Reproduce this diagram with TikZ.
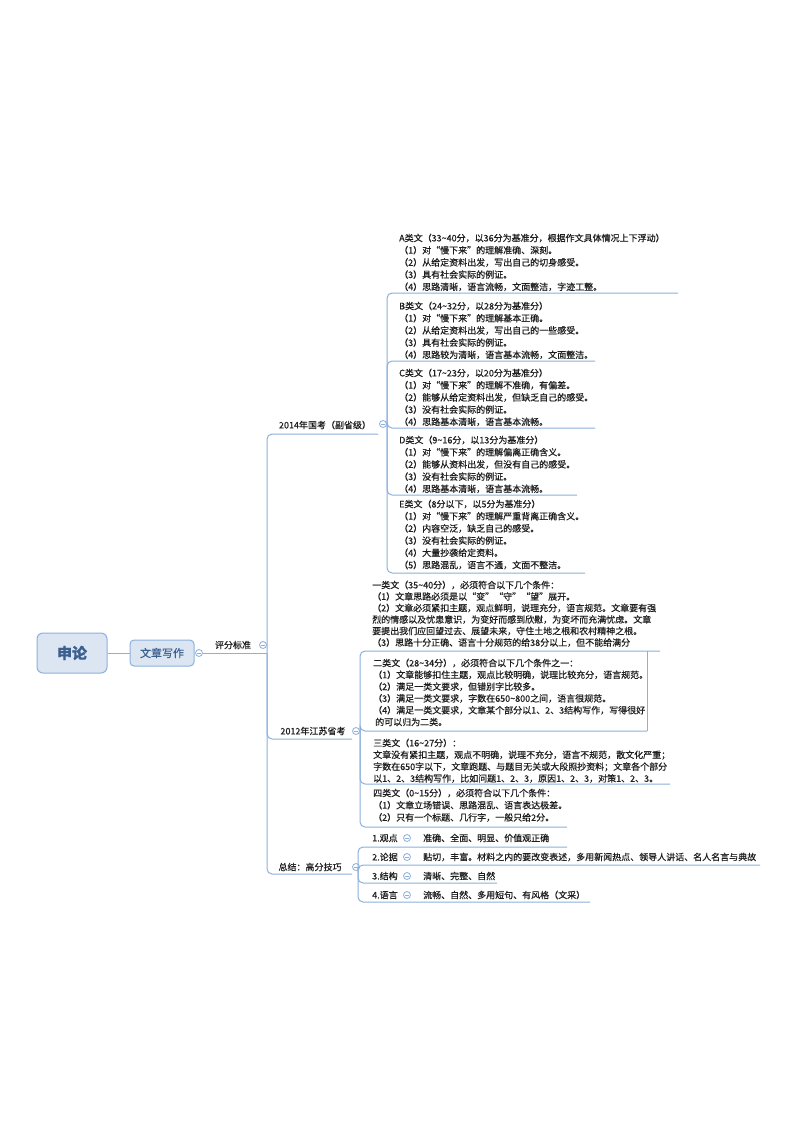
\documentclass[tikz,border=0pt]{standalone}
\usepackage{fontspec}
\setmainfont{Noto Sans CJK SC}[RawFeature={embolden=0.5}]
\usetikzlibrary{positioning}

\definecolor{linec}{HTML}{8DB0DD}
\definecolor{boxfill}{HTML}{DCE6F2}
\definecolor{rootc}{HTML}{3B5F8F}
\definecolor{textc}{HTML}{1E1E1E}

\newcommand{\tl}{\textasciitilde}

\tikzset{
  conn/.style={draw=linec, line width=1pt, rounded corners=5pt},
  fold/.style={circle, draw=linec, fill=white, line width=0.8pt, minimum size=7pt, inner sep=0pt,
    path picture={\draw[linec, line width=0.7pt]
      ([xshift=-1.8pt]path picture bounding box.center) -- ([xshift=1.8pt]path picture bounding box.center);}},
  topic/.style={inner sep=0pt, text=textc, font=\fontsize{9}{11}\selectfont},
  para/.style={anchor=north west, inner sep=0pt, align=left, text=textc, font=\fontsize{9}{12.2}\selectfont},
  rootbox/.style={draw=linec, fill=boxfill, line width=1pt, rounded corners=6pt,
    minimum width=70pt, minimum height=40pt, text=rootc, font=\fontsize{15}{15}\selectfont\bfseries},
  mainbox/.style={draw=linec, fill=boxfill, line width=1pt, rounded corners=4pt,
    minimum width=64pt, minimum height=26pt, text=rootc, font=\fontsize{11}{11}\selectfont}
}

\begin{document}
\begin{tikzpicture}[x=1pt, y=-1pt]
\useasboundingbox[fill=white] (0,0) rectangle (800,1132);

% root and first level
\node[rootbox] (shenlun) at (72,653) {申论};
\node[mainbox] (xiezuo) at (162,653) {文章写作};
\draw[conn] (shenlun) -- (xiezuo);
\node[fold] (fxz) at (199,653) {};
\node[topic] (pfbz) at (233,645) {评分标准};
\node[fold] (fpf) at (263,645) {};
\coordinate (bpf) at (267,653);
\draw[conn] (fxz) -- (bpf);

% second level
\node[topic] (gk14) at (325,425) {2014年国考（副省级）};
\node[topic] (js12) at (313,731) {2012年江苏省考};
\node[topic] (zongjie) at (310,867) {总结：高分技巧};
\coordinate (u14) at (378,434);
\coordinate (u12) at (352,739);
\coordinate (uzj) at (352,874);
\draw[conn] (bpf) |- (u14);
\draw[conn] (bpf) |- (u12);
\draw[conn] (bpf) |- (uzj);
\node[fold] (f14) at (383,424) {};
\node[fold] (f12) at (356,731) {};
\node[fold] (fzj) at (356,867) {};

% 2014 children
\coordinate (b14) at (387,424);
\draw[conn] (f14) -- (b14);
\node[para] (lvA) at (399,233.5) {A类文（33\tl40分，以36分为基准分，根据作文具体情况上下浮动）\\
（1）对“慢下来”的理解准确、深刻。\\
（2）从给定资料出发，写出自己的切身感受。\\
（3）具有社会实际的例证。\\
（4）思路清晰，语言流畅，文面整洁，字迹工整。};
\node[para] (lvB) at (399,301.5) {B类文（24\tl32分，以28分为基准分）\\
（1）对“慢下来”的理解基本正确。\\
（2）从给定资料出发，写出自己的一些感受。\\
（3）具有社会实际的例证。\\
（4）思路较为清晰，语言基本流畅，文面整洁。};
\node[para] (lvC) at (399,368.5) {C类文（17\tl23分，以20分为基准分）\\
（1）对“慢下来”的理解不准确，有偏差。\\
（2）能够从给定资料出发，但缺乏自己的感受。\\
（3）没有社会实际的例证。\\
（4）思路基本清晰，语言基本流畅。};
\node[para] (lvD) at (399,435.5) {D类文（9\tl16分，以13分为基准分）\\
（1）对“慢下来”的理解偏离正确含义。\\
（2）能够从资料出发，但没有自己的感受。\\
（3）没有社会实际的例证。\\
（4）思路基本清晰，语言基本流畅。};
\node[para] (lvE) at (399,499.5) {E类文（8分以下，以5分为基准分）\\
（1）对“慢下来”的理解严重背离正确含义。\\
（2）内容空泛，缺乏自己的感受。\\
（3）没有社会实际的例证。\\
（4）大量抄袭给定资料。\\
（5）思路混乱，语言不通，文面不整洁。};
\coordinate (uA) at (678,293);
\coordinate (uB) at (595,361);
\coordinate (uC) at (595,428);
\coordinate (uD) at (577,495);
\coordinate (uE) at (585,573);
\foreach \u in {uA,uB,uC,uD,uE}
  \draw[conn] (b14) |- (\u);

% 2012 children
\coordinate (b12) at (360,731);
\draw[conn] (f12) -- (b12);
\node[para, font=\fontsize{9}{11.5}\selectfont] (cls1) at (372,580.5) {一类文（35\tl40分），必须符合以下几个条件：\\
（1）文章思路必须是以“变”“守”“望”展开。\\
（2）文章必须紧扣主题，观点鲜明，说理充分，语言规范。文章要有强\\
烈的情感以及忧患意识，为变好而感到欣慰，为变坏而充满忧虑。文章\\
要提出我们应回望过去、展望未来，守住土地之根和农村精神之根。\\
（3）思路十分正确、语言十分规范的给38分以上，但不能给满分};
\node[para, font=\fontsize{9}{11.8}\selectfont] (cls2) at (373,658.5) {二类文（28\tl34分），必须符合以下几个条件之一：\\
（1）文章能够扣住主题，观点比较明确，说理比较充分，语言规范。\\
（2）满足一类文要求，但错别字比较多。\\
（3）满足一类文要求，字数在650\tl800之间，语言很规范。\\
（4）满足一类文要求，文章某个部分以1、2、3结构写作，写得很好\\
\ 的可以归为二类。};
\node[para, font=\fontsize{9}{11.8}\selectfont] (cls3) at (373,738.5) {三类文（16\tl27分）：\\
文章没有紧扣主题，观点不明确，说理不充分，语言不规范，散文化严重；\\
字数在650字以下，文章跑题、与题目无关或大段照抄资料；文章各个部分\\
以1、2、3结构写作，比如问题1、2、3，原因1、2、3，对策1、2、3。};
\node[para] (cls4) at (373,788.5) {四类文（0\tl15分），必须符合以下几个条件：\\
（1）文章立场错误、思路混乱、语言表达极差。\\
（2）只有一个标题、几行字，一般只给2分。};
\coordinate (u1) at (660,651);
\coordinate (u2) at (647,731);
\coordinate (u3) at (670,784);
\coordinate (u4) at (567,827);
\foreach \u in {u1,u2,u3,u4}
  \draw[conn] (b12) |- (\u);
\draw[conn] (u2) -- (647,651);

% summary children
\coordinate (bzj) at (358,867);
\draw[conn] (fzj) -- (bzj);
\node[topic, anchor=west] (gd) at (372,838) {1.观点};
\node[topic, anchor=west] (lj) at (372,857) {2.论据};
\node[topic, anchor=west] (jg) at (372,876) {3.结构};
\node[topic, anchor=west] (yy) at (372,895) {4.语言};
\node[fold] (fgd) at (407,838) {};
\node[fold] (flj) at (407,857) {};
\node[fold] (fjg) at (407,876) {};
\node[fold] (fyy) at (407,895) {};
\node[topic, anchor=west] (gdx) at (423,838) {准确、全面、明显、价值观正确};
\node[topic, anchor=west] (ljx) at (423,857) {贴切，丰富。材料之内的要改变表述，多用新闻热点、领导人讲话、名人名言与典故};
\node[topic, anchor=west] (jgx) at (423,876) {清晰、完整、自然};
\node[topic, anchor=west] (yyx) at (423,895) {流畅、自然、多用短句、有风格（文采）};
\coordinate (v1) at (567,847);
\coordinate (v2) at (760,865);
\coordinate (v3) at (497,883);
\coordinate (v4) at (590,902);
\foreach \v in {v1,v2,v3,v4}
  \draw[conn] (bzj) |- (\v);
\end{tikzpicture}
\end{document}
